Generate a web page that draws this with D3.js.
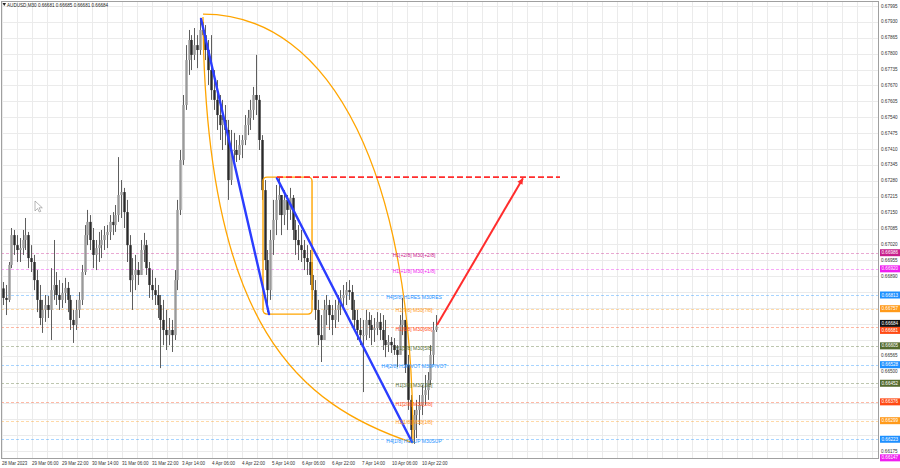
<!DOCTYPE html>
<html><head><meta charset="utf-8">
<script src="https://cdn.jsdelivr.net/npm/d3@7"></script>
<style>html,body{margin:0;padding:0;background:#fff;}svg{display:block;font-family:"Liberation Sans",Arial,sans-serif;}</style>
</head><body>
<svg id="c" width="900" height="468"></svg>
<script>
// ---------- data ----------
const symbolTitle = "AUDUSD,M30  0.66681 0.66685 0.66681 0.66684";
const timeLabels = ["28 Mar 2023","29 Mar 06:00","29 Mar 22:00","30 Mar 14:00","31 Mar 06:00","31 Mar 22:00","3 Apr 14:00","4 Apr 06:00","4 Apr 22:00","5 Apr 14:00","6 Apr 06:00","6 Apr 22:00","7 Apr 14:00","10 Apr 06:00","10 Apr 22:00"];
const priceTicks = [0.67995,0.67930,0.67865,0.67800,0.67735,0.67670,0.67605,0.67540,0.67475,0.67410,0.67345,0.67280,0.67215,0.67150,0.67085,0.67020,0.66955,0.66890,0.66825,0.66760,0.66695,0.66630,0.66565,0.66500,0.66435,0.66370,0.66305,0.66240,0.66175];

// one entry per 1.5 hours (3 M30 bars)
const highs = [
0.66866,0.66854,0.66948,0.67087,0.67079,0.67058,0.67046,0.67079,0.67128,0.67071,
0.67017,0.66977,0.66915,0.66854,0.66793,0.66813,0.66809,0.66923,0.67038,0.66907,
0.66874,0.66862,0.66883,0.66866,0.66813,0.66752,0.66793,0.66825,0.66936,0.67099,
0.67161,0.67140,0.67087,0.67038,0.67071,0.67079,0.67095,0.67099,0.67140,0.67152,
0.67181,0.67377,0.67283,0.67251,0.67202,0.67058,0.66964,0.66977,0.66948,0.67038,
0.67067,0.67038,0.66948,0.66915,0.66883,0.66854,0.66813,0.66793,0.66752,0.66719,
0.66711,0.66915,0.67202,0.67406,0.67631,0.67835,0.67897,0.67876,0.67905,0.67876,
0.67946,0.67930,0.67917,0.67856,0.67876,0.67733,0.67692,0.67631,0.67611,0.67590,
0.67529,0.67488,0.67476,0.67447,0.67467,0.67467,0.67549,0.67570,0.67611,0.67664,
0.67795,0.67631,0.67467,0.67283,0.66997,0.67079,0.67202,0.67263,0.67291,0.67222,
0.67242,0.67222,0.67251,0.67222,0.67120,0.67099,0.67079,0.67038,0.67017,0.66997,
0.66948,0.66874,0.66793,0.66731,0.66793,0.66813,0.66793,0.66772,0.66793,0.66813,
0.66833,0.66854,0.66866,0.66874,0.66854,0.66793,0.66752,0.66719,0.66711,0.66752,
0.66743,0.66731,0.66719,0.66743,0.66739,0.66731,0.66711,0.66649,0.66641,0.66637,
0.66608,0.66731,0.66801,0.66711,0.66568,0.66404,0.66343,0.66384,0.66404,0.66445,
0.66486,0.66498,0.66608,0.66703,0.66731];
const lows = [
0.66772,0.66731,0.66784,0.66923,0.66977,0.66948,0.66948,0.66977,0.66997,0.66923,
0.66907,0.66833,0.66743,0.66690,0.66658,0.66703,0.66719,0.66629,0.66793,0.66772,
0.66752,0.66760,0.66780,0.66743,0.66670,0.66617,0.66670,0.66719,0.66772,0.66895,
0.67017,0.66997,0.66923,0.66915,0.66948,0.66964,0.66997,0.67005,0.67038,0.67058,
0.67071,0.67112,0.67128,0.67087,0.66948,0.66825,0.66752,0.66833,0.66854,0.66895,
0.66948,0.66895,0.66801,0.66793,0.66772,0.66719,0.66514,0.66608,0.66588,0.66608,
0.66580,0.66629,0.66833,0.67140,0.67345,0.67570,0.67713,0.67733,0.67774,0.67741,
0.67795,0.67823,0.67774,0.67672,0.67611,0.67570,0.67488,0.67447,0.67406,0.67426,
0.67202,0.67263,0.67345,0.67357,0.67365,0.67373,0.67426,0.67467,0.67488,0.67529,
0.67549,0.67406,0.67202,0.66915,0.66743,0.66793,0.66977,0.67058,0.67140,0.67058,
0.67099,0.67079,0.67120,0.67038,0.66977,0.66956,0.66948,0.66915,0.66895,0.66854,
0.66793,0.66711,0.66608,0.66539,0.66629,0.66690,0.66670,0.66649,0.66678,0.66703,
0.66731,0.66752,0.66772,0.66793,0.66711,0.66670,0.66629,0.66608,0.66416,0.66629,
0.66637,0.66608,0.66621,0.66649,0.66629,0.66588,0.66559,0.66580,0.66576,0.66568,
0.66518,0.66588,0.66649,0.66494,0.66343,0.66220,0.66204,0.66228,0.66281,0.66322,
0.66363,0.66384,0.66445,0.66527,0.66662];
const closes = [
0.66801,0.66793,0.66936,0.67058,0.67017,0.66997,0.67005,0.67038,0.67058,0.66964,
0.66948,0.66874,0.66793,0.66719,0.66752,0.66772,0.66752,0.66833,0.66854,0.66813,
0.66793,0.66821,0.66842,0.66793,0.66711,0.66690,0.66752,0.66793,0.66907,0.67058,
0.67112,0.67038,0.66977,0.67005,0.67017,0.67038,0.67058,0.67071,0.67112,0.67099,
0.67140,0.67222,0.67234,0.67152,0.67017,0.66874,0.66895,0.66915,0.66895,0.66997,
0.67017,0.66923,0.66854,0.66833,0.66813,0.66772,0.66711,0.66670,0.66649,0.66670,
0.66649,0.66874,0.67161,0.67365,0.67590,0.67774,0.67856,0.67795,0.67835,0.67815,
0.67897,0.67876,0.67815,0.67733,0.67651,0.67611,0.67549,0.67508,0.67529,0.67488,
0.67283,0.67406,0.67406,0.67386,0.67426,0.67447,0.67508,0.67537,0.67570,0.67631,
0.67611,0.67447,0.67242,0.66956,0.66833,0.67038,0.67120,0.67202,0.67222,0.67140,
0.67202,0.67161,0.67210,0.67079,0.67038,0.67017,0.66997,0.66964,0.66948,0.66895,
0.66833,0.66752,0.66649,0.66629,0.66752,0.66772,0.66731,0.66711,0.66752,0.66772,
0.66801,0.66813,0.66833,0.66825,0.66752,0.66711,0.66670,0.66649,0.66649,0.66711,
0.66690,0.66670,0.66678,0.66703,0.66670,0.66629,0.66608,0.66621,0.66608,0.66588,
0.66568,0.66690,0.66711,0.66527,0.66384,0.66261,0.66322,0.66343,0.66363,0.66404,
0.66424,0.66465,0.66568,0.66670,0.66684];
const firstOpen = 0.66840;
const barsPerEntry = 3;

const levelPrices = [0.66986,0.66920,0.66813,0.66757,0.66681,0.66605,0.66528,0.66452,0.66376,0.66299,0.66223,0.66147];
const levelNames = ["H1[+2/8] M30[+2/8]","H1[+1/8] M30[+1/8]","H4[5/8] H1RES M30RES","H1[7/8] M30[7/8]","H1[6/8] M30[6/8]","H1[5/8] M30[5/8]","H4[2/8] H1PIVOT M30PIVOT","H1[3/8] M30[3/8]","H1[2/8] M30[2/8]","H1[1/8] M30[1/8]","H4[1/8] H1SUP M30SUP","H1[-1/8] M30[-1/8]"];
const levelColors = ["#c8208c","#f01ef0","#1e90ff","#ff9a1a","#ff4a14","#556b2f","#1e90ff","#556b2f","#ff4a14","#ff9a1a","#1e90ff","#f01ef0"];
const bidPrice = 0.66684;

// annotation anchors (M30 bar index, price)
const trend1 = [[212.3,0.67942],[284.8,0.66735]];
const trend2 = [[293.3,0.67291],[437.3,0.66212]];
const boxAnchor = [[278.4,0.67295],[330.7,0.66735]];
const targetLine = [[293.3,0.67295],[595.2,0.67295]];
const arrowLine = [[464,0.66690],[555.7,0.67291]];
const arcAnchor = [[214.4,0.67962],[438.4,0.66208]];
const labelBar = 439.5;

// ---------- drawing ----------
const svg = d3.select("#c");
const L=1, T=1, R=879, B=459;
const x = d3.scaleLinear().domain([0,464]).range([2,437]);
const y = d3.scaleLinear().domain([0.66175,0.67995]).range([451,6]);

svg.append("rect").attr("width",900).attr("height",468).attr("fill","#fff");
svg.append("clipPath").attr("id","clip").append("rect").attr("x",L).attr("y",T).attr("width",R-L).attr("height",B-T);
const plot = svg.append("g").attr("clip-path","url(#clip)");

// grid
const vgrid = d3.range(0,62).map(k=>k*16);
plot.selectAll(".vg").data(vgrid).enter().append("line")
  .attr("x1",d=>Math.round(x(d))+0.5).attr("x2",d=>Math.round(x(d))+0.5)
  .attr("y1",T).attr("y2",B).attr("stroke","#ebebeb").attr("stroke-width",1);
plot.selectAll(".hg").data(priceTicks).enter().append("line")
  .attr("x1",L).attr("x2",R)
  .attr("y1",d=>Math.round(y(d))+0.5).attr("y2",d=>Math.round(y(d))+0.5)
  .attr("stroke","#ebebeb").attr("stroke-width",1);

// level lines
levelPrices.forEach((p,i)=>{
  plot.append("line").attr("x1",L).attr("x2",R)
    .attr("y1",Math.round(y(p))+0.5).attr("y2",Math.round(y(p))+0.5)
    .attr("stroke",levelColors[i]).attr("stroke-opacity",0.38)
    .attr("stroke-dasharray","3,2").attr("stroke-width",1);
});

// candles
const bars = closes.map((c,j)=>({
  i: j*barsPerEntry+1, h: highs[j], l: lows[j], c: c,
  o: j===0 ? firstOpen : closes[j-1]
}));
const cg = plot.append("g");
bars.forEach(b=>{
  const cx = Math.round(x(b.i))+0.5;
  cg.append("line").attr("x1",cx).attr("x2",cx)
    .attr("y1",y(b.h)).attr("y2",y(b.l))
    .attr("stroke","#5e5e5e").attr("stroke-width",1);
  const top = y(Math.max(b.o,b.c)), bot = y(Math.min(b.o,b.c));
  cg.append("rect").attr("x",cx-1.2).attr("width",2.4)
    .attr("y",top).attr("height",Math.max(1,bot-top))
    .attr("fill", b.c>=b.o ? "#9a9a9a" : "#2a2a2a");
});

// orange arcs
const ax0 = x(arcAnchor[0][0]), ay0 = y(arcAnchor[0][1]);
const ax1 = x(arcAnchor[1][0]), ay1 = y(arcAnchor[1][1]);
const adx = ax1-ax0, ady = ay1-ay0, k = 0.62;
const rightArc = d3.path();
rightArc.moveTo(ax0,ay0);
rightArc.bezierCurveTo(ax0+k*adx, ay0, ax1, ay1-k*ady, ax1, ay1);
const leftArc = d3.path();
leftArc.moveTo(ax0,ay0+3);
leftArc.bezierCurveTo(ax0+0.01*adx, ay0+0.734*ady, ax0+0.462*adx, ay0+0.911*ady, ax1, ay1);
plot.append("path").attr("d",rightArc.toString()).attr("fill","none").attr("stroke","#ffa500").attr("stroke-width",1.3);
plot.append("path").attr("d",leftArc.toString()).attr("fill","none").attr("stroke","#ffa500").attr("stroke-width",1.3);

// orange rounded box
plot.append("rect")
  .attr("x",x(boxAnchor[0][0])).attr("y",y(boxAnchor[0][1]))
  .attr("width",x(boxAnchor[1][0])-x(boxAnchor[0][0]))
  .attr("height",y(boxAnchor[1][1])-y(boxAnchor[0][1]))
  .attr("rx",4).attr("fill","none").attr("stroke","#ffa500").attr("stroke-width",1.4);

// blue trend lines
[trend1,trend2].forEach(t=>{
  plot.append("line").attr("x1",x(t[0][0])).attr("y1",y(t[0][1]))
    .attr("x2",x(t[1][0])).attr("y2",y(t[1][1]))
    .attr("stroke","#2b3dff").attr("stroke-width",2.4).attr("stroke-linecap","round");
});

// red dashed target
plot.append("line").attr("x1",x(targetLine[0][0])).attr("y1",y(targetLine[0][1]))
  .attr("x2",x(targetLine[1][0])).attr("y2",y(targetLine[1][1]))
  .attr("stroke","#ff2d2d").attr("stroke-width",1.8).attr("stroke-dasharray","6,3");

// red arrow
const rx0=x(arrowLine[0][0]), ry0=y(arrowLine[0][1]), rx1=x(arrowLine[1][0]), ry1=y(arrowLine[1][1]);
plot.append("line").attr("x1",rx0).attr("y1",ry0).attr("x2",rx1).attr("y2",ry1)
  .attr("stroke","#ff2d2d").attr("stroke-width",2);
const ang = Math.atan2(ry1-ry0, rx1-rx0), ah=6, aw=3;
const pts = [[rx1,ry1],
  [rx1-ah*Math.cos(ang)+aw*Math.sin(ang), ry1-ah*Math.sin(ang)-aw*Math.cos(ang)],
  [rx1-ah*Math.cos(ang)-aw*Math.sin(ang), ry1-ah*Math.sin(ang)+aw*Math.cos(ang)]];
plot.append("polygon").attr("points",pts.map(p=>p.join(",")).join(" ")).attr("fill","#ff2d2d");

// level labels
levelPrices.forEach((p,i)=>{
  plot.append("text").attr("x",x(labelBar)).attr("y",y(p)+1.8)
    .attr("text-anchor","middle").attr("dominant-baseline","central")
    .attr("font-size",5).attr("fill",levelColors[i]).text(levelNames[i]);
});

// cursor
plot.append("path").attr("d","M35,201 L35,211 L37.5,208.5 L39.3,212 L40.8,211.3 L39,207.8 L42.3,207.8 Z")
  .attr("fill","#fff").attr("stroke","#888").attr("stroke-width",0.6);

// frame
svg.append("rect").attr("x",L+0.5).attr("y",T+0.5).attr("width",R-L-1).attr("height",B-T-1)
  .attr("fill","none").attr("stroke","#a0a0a0").attr("stroke-width",1);

// title
svg.append("path").attr("d","M2.5,3 L6,3 L4.25,6 Z").attr("fill","#222");
svg.append("text").attr("x",7).attr("y",6.6).attr("font-size",4.6).attr("fill","#222").text(symbolTitle);

// price boxes (positions, with overlap resolution)
const boxes = levelPrices.map((p,i)=>({p, c:levelColors[i], cy:y(p)}));
boxes.push({p:bidPrice, c:"#111", cy:y(bidPrice), bid:true});
boxes.sort((a,b)=>a.cy-b.cy);
for (let i=1;i<boxes.length;i++){
  const gap = boxes[i].cy-boxes[i-1].cy;
  if (gap<7){ const d=(7-gap)/2; boxes[i-1].cy-=d; boxes[i].cy+=d; }
}

// price axis labels (hidden where a price box covers them)
const visibleTicks = priceTicks.filter(t=>boxes.every(b=>Math.abs(b.cy-y(t))>=6.5));
svg.selectAll(".pt").data(visibleTicks).enter().append("text")
  .attr("x",881).attr("y",d=>y(d)).attr("dominant-baseline","central")
  .attr("font-size",4.6).attr("fill","#333").text(d=>d.toFixed(5));

// time axis labels
svg.selectAll(".tl").data(timeLabels).enter().append("text")
  .attr("x",(d,i)=>x(i*32)).attr("y",465).attr("font-size",4.5).attr("fill","#333").text(d=>d);

boxes.forEach(b=>{
  svg.append("rect").attr("x",880).attr("y",b.cy-3.5).attr("width",20).attr("height",7).attr("fill",b.c);
  svg.append("text").attr("x",881.5).attr("y",b.cy).attr("dominant-baseline","central")
    .attr("font-size",4.6).attr("fill","#fff").text(b.p.toFixed(5));
});
</script>
</body></html>
